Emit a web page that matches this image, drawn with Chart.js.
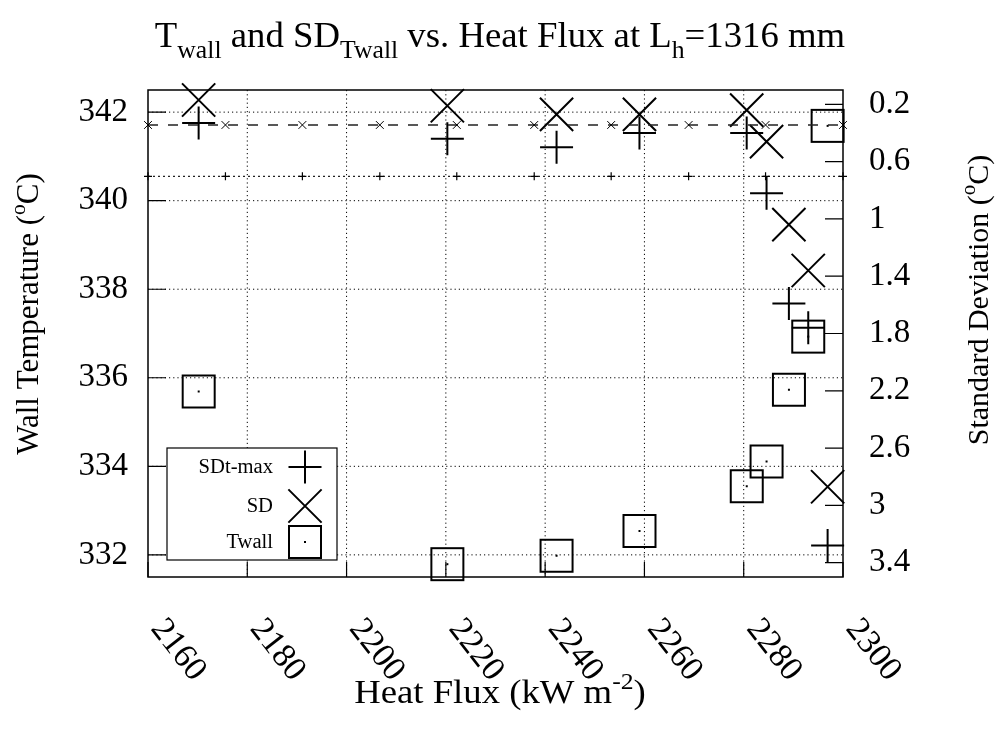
<!DOCTYPE html>
<html>
<head>
<meta charset="utf-8">
<script src="https://cdn.jsdelivr.net/npm/chart.js@4/dist/chart.umd.min.js"></script>
<style>
  html, body { margin: 0; padding: 0; background: #fff; }
  #wrap { width: 999px; height: 734px; }
</style>
</head>
<body>
<div id="wrap"><canvas id="c" width="999" height="734"></canvas></div>
<script>
// Measured points: heat flux (kW m^-2), wall temperature (°C), standard deviations (°C)
const heatFlux = [2170.2, 2220.3, 2242.3, 2259.0, 2280.6, 2284.6, 2289.1, 2293.0, 2296.9];
const twall    = [335.69, 331.79, 331.98, 332.54, 333.55, 334.11, 335.73, 336.93, 341.69];
const sd       = [0.17, 0.21, 0.27, 0.27, 0.24, 0.46, 1.04, 1.36, 2.87];
const sdtMax   = [0.33, 0.44, 0.50, 0.40, 0.40, 0.82, 1.59, 1.76, 3.28];

// Reference levels (wall-temperature axis) and the flux values where their markers sit
const refX      = [2160, 2175.6, 2191.1, 2206.7, 2222.2, 2237.8, 2253.3, 2268.9, 2284.4, 2300];
const refDashed = 341.71;
const refDotted = 340.55;

// Axis ticks
const xTicks       = [2160, 2180, 2200, 2220, 2240, 2260, 2280, 2300];
const yTicks       = [332, 334, 336, 338, 340, 342];
const y2Ticks      = [0.2, 0.6, 1.0, 1.4, 1.8, 2.2, 2.6, 3.0, 3.4];
const y2TickLabels = ['0.2', '0.6', '1', '1.4', '1.8', '2.2', '2.6', '3', '3.4'];

const FONT = 'Liberation Serif, Times New Roman, serif';

// Square marker with a centre dot for wall temperature
function squareDot() {
  const c = document.createElement('canvas');
  c.width = 38; c.height = 38;
  const g = c.getContext('2d');
  g.strokeStyle = '#000';
  g.lineWidth = 2;
  g.strokeRect(3, 3, 32, 32);
  g.fillStyle = '#000';
  g.fillRect(18, 18, 2, 2);
  return c;
}
const twallMarker = squareDot();

const pts = (xs, ys) => xs.map((x, i) => ({ x, y: ys[i] }));
const flat = (xs, v) => xs.map(x => ({ x, y: v }));

function richWidth(ctx, parts, size) {
  let w = 0;
  for (const p of parts) {
    ctx.font = (p.s ? size * 0.7 : size) + 'px ' + FONT;
    w += ctx.measureText(p.t).width;
  }
  return w;
}
function drawRich(ctx, parts, size) {
  ctx.textAlign = 'left';
  ctx.textBaseline = 'alphabetic';
  let cx = -richWidth(ctx, parts, size) / 2;
  for (const p of parts) {
    const s = p.s ? size * 0.7 : size;
    ctx.font = s + 'px ' + FONT;
    const dy = p.s === 'sub' ? size * 0.3 : (p.s === 'sup' ? -size * 0.42 : 0);
    ctx.fillText(p.t, cx, dy);
    cx += ctx.measureText(p.t).width;
  }
}

function drawMarker(ctx, style, r, x, y, lw) {
  ctx.save();
  ctx.strokeStyle = '#000';
  ctx.lineWidth = lw;
  ctx.beginPath();
  if (style === 'cross') {
    ctx.moveTo(x - r, y); ctx.lineTo(x + r, y);
    ctx.moveTo(x, y - r); ctx.lineTo(x, y + r);
    ctx.stroke();
  } else if (style === 'crossRot') {
    const d = r * Math.SQRT1_2;
    ctx.moveTo(x - d, y - d); ctx.lineTo(x + d, y + d);
    ctx.moveTo(x + d, y - d); ctx.lineTo(x - d, y + d);
    ctx.stroke();
  } else {
    ctx.drawImage(style, x - style.width / 2, y - style.height / 2);
  }
  ctx.restore();
}

const frame = {
  id: 'frame',
  beforeDatasetsDraw(chart) {
    const { ctx, chartArea: a, scales } = chart;
    ctx.save();
    ctx.strokeStyle = '#000';
    ctx.lineWidth = 1;
    ctx.setLineDash([1.2, 3]);
    for (const v of yTicks) {
      const y = scales.y.getPixelForValue(v);
      ctx.beginPath(); ctx.moveTo(a.left, y); ctx.lineTo(a.right, y); ctx.stroke();
    }
    for (const v of xTicks.slice(1, -1)) {
      const x = scales.x.getPixelForValue(v);
      ctx.beginPath(); ctx.moveTo(x, a.top); ctx.lineTo(x, a.bottom); ctx.stroke();
    }
    ctx.restore();
  },
  afterDatasetsDraw(chart) {
    const { ctx, chartArea: a, scales } = chart;
    ctx.save();
    ctx.strokeStyle = '#000';
    ctx.fillStyle = '#000';
    ctx.setLineDash([]);

    // inward tick marks
    ctx.lineWidth = 1.2;
    ctx.beginPath();
    for (const v of yTicks) {
      const y = scales.y.getPixelForValue(v);
      ctx.moveTo(a.left, y); ctx.lineTo(a.left + 18, y);
    }
    for (const v of y2Ticks) {
      const y = scales.y2.getPixelForValue(v);
      ctx.moveTo(a.right, y); ctx.lineTo(a.right - 18, y);
    }
    for (const v of xTicks) {
      const x = scales.x.getPixelForValue(v);
      ctx.moveTo(x, a.bottom); ctx.lineTo(x, a.bottom - 15);
    }
    ctx.stroke();

    // plot border
    ctx.lineWidth = 1.5;
    ctx.strokeRect(a.left, a.top, a.right - a.left, a.bottom - a.top);

    // legend
    const lx0 = 167, ly0 = 448, lx1 = 337, ly1 = 560;
    ctx.fillStyle = '#fff';
    ctx.fillRect(lx0, ly0, lx1 - lx0, ly1 - ly0);
    ctx.lineWidth = 1.2;
    ctx.strokeRect(lx0, ly0, lx1 - lx0, ly1 - ly0);
    ctx.fillStyle = '#000';
    const rows = [
      { ds: chart.data.datasets[2], y: 467 },
      { ds: chart.data.datasets[3], y: 506 },
      { ds: chart.data.datasets[4], y: 542 }
    ];
    for (const r of rows) {
      ctx.save();
      ctx.translate(273, r.y + 1);
      ctx.scale(1.03, 1);
      ctx.font = '20px ' + FONT;
      ctx.textAlign = 'right';
      ctx.textBaseline = 'middle';
      ctx.fillText(r.ds.label, 0, 0);
      ctx.restore();
      drawMarker(ctx, r.ds.pointStyle, r.ds.pointRadius, 305, r.y, r.ds.pointBorderWidth);
    }

    // x tick labels, slanted
    ctx.font = '34px ' + FONT;
    ctx.textAlign = 'center';
    ctx.textBaseline = 'middle';
    for (const v of xTicks) {
      const x = scales.x.getPixelForValue(v);
      ctx.save();
      ctx.translate(x + 30, 650);
      ctx.rotate(52 * Math.PI / 180);
      ctx.fillText(String(v), 0, 0);
      ctx.restore();
    }

    // title
    ctx.save();
    ctx.translate(500, 47);
    ctx.scale(1.05, 1);
    drawRich(ctx, [
      { t: 'T' }, { t: 'wall', s: 'sub' }, { t: ' and SD' }, { t: 'Twall', s: 'sub' },
      { t: ' vs. Heat Flux at L' }, { t: 'h', s: 'sub' }, { t: '=1316 mm' }
    ], 35);
    ctx.restore();

    // x axis title
    ctx.save();
    ctx.translate(500, 703);
    ctx.scale(1.08, 1);
    drawRich(ctx, [{ t: 'Heat Flux (kW m' }, { t: '-2', s: 'sup' }, { t: ')' }], 34);
    ctx.restore();

    // left axis title
    ctx.save();
    ctx.translate(38, 314);
    ctx.rotate(-Math.PI / 2);
    drawRich(ctx, [{ t: 'Wall Temperature (' }, { t: 'o', s: 'sup' }, { t: 'C)' }], 31);
    ctx.restore();

    // right axis title
    ctx.save();
    ctx.translate(988, 300);
    ctx.rotate(-Math.PI / 2);
    drawRich(ctx, [{ t: 'Standard Deviation (' }, { t: 'o', s: 'sup' }, { t: 'C)' }], 30);
    ctx.restore();

    ctx.restore();
  }
};

new Chart(document.getElementById('c'), {
  type: 'scatter',
  data: {
    datasets: [
      {
        label: 'ref dashed', data: flat(refX, refDashed), yAxisID: 'y',
        showLine: true, borderColor: '#222', borderWidth: 1.4, borderDash: [10, 10],
        pointStyle: 'crossRot', pointRadius: 5.5, pointBorderWidth: 1,
        pointBorderColor: '#000', clip: false
      },
      {
        label: 'ref dotted', data: flat(refX, refDotted), yAxisID: 'y',
        showLine: true, borderColor: '#222', borderWidth: 1.4, borderDash: [2, 3],
        pointStyle: 'cross', pointRadius: 4, pointBorderWidth: 1.2,
        pointBorderColor: '#000', clip: false
      },
      {
        label: 'SDt-max', data: pts(heatFlux, sdtMax), yAxisID: 'y2',
        pointStyle: 'cross', pointRadius: 16.5, pointBorderWidth: 2,
        pointBorderColor: '#000', clip: false
      },
      {
        label: 'SD', data: pts(heatFlux, sd), yAxisID: 'y2',
        pointStyle: 'crossRot', pointRadius: 23.5, pointBorderWidth: 2,
        pointBorderColor: '#000', clip: false
      },
      {
        label: 'Twall', data: pts(heatFlux, twall), yAxisID: 'y',
        pointStyle: twallMarker, pointRadius: 16, pointBorderWidth: 2, clip: false
      }
    ]
  },
  options: {
    responsive: false,
    animation: false,
    devicePixelRatio: 1,
    layout: { padding: { top: 90, left: 0, right: 0, bottom: 0 } },
    plugins: { legend: { display: false }, tooltip: { enabled: false }, title: { display: false } },
    scales: {
      x: {
        type: 'linear', position: 'bottom', min: 2160, max: 2300,
        afterBuildTicks: s => { s.ticks = xTicks.map(v => ({ value: v })); },
        ticks: { display: false },
        grid: { display: false, drawTicks: false },
        border: { display: false },
        afterFit: s => { s.height = 157; }
      },
      y: {
        type: 'linear', position: 'left', min: 331.5, max: 342.5,
        afterBuildTicks: s => { s.ticks = yTicks.map(v => ({ value: v })); },
        ticks: { color: '#000', padding: 20, font: { family: FONT, size: 33 } },
        grid: { display: false, drawTicks: false },
        border: { display: false },
        afterFit: s => { s.width = 148; }
      },
      y2: {
        type: 'linear', position: 'right', min: 0.1, max: 3.5, reverse: true,
        afterBuildTicks: s => { s.ticks = y2Ticks.map(v => ({ value: v })); },
        ticks: {
          color: '#000', padding: 26, font: { family: FONT, size: 33 },
          callback: (v, i) => y2TickLabels[i]
        },
        grid: { display: false, drawTicks: false },
        border: { display: false },
        afterFit: s => { s.width = 156; }
      }
    }
  },
  plugins: [frame]
});
</script>
</body>
</html>
